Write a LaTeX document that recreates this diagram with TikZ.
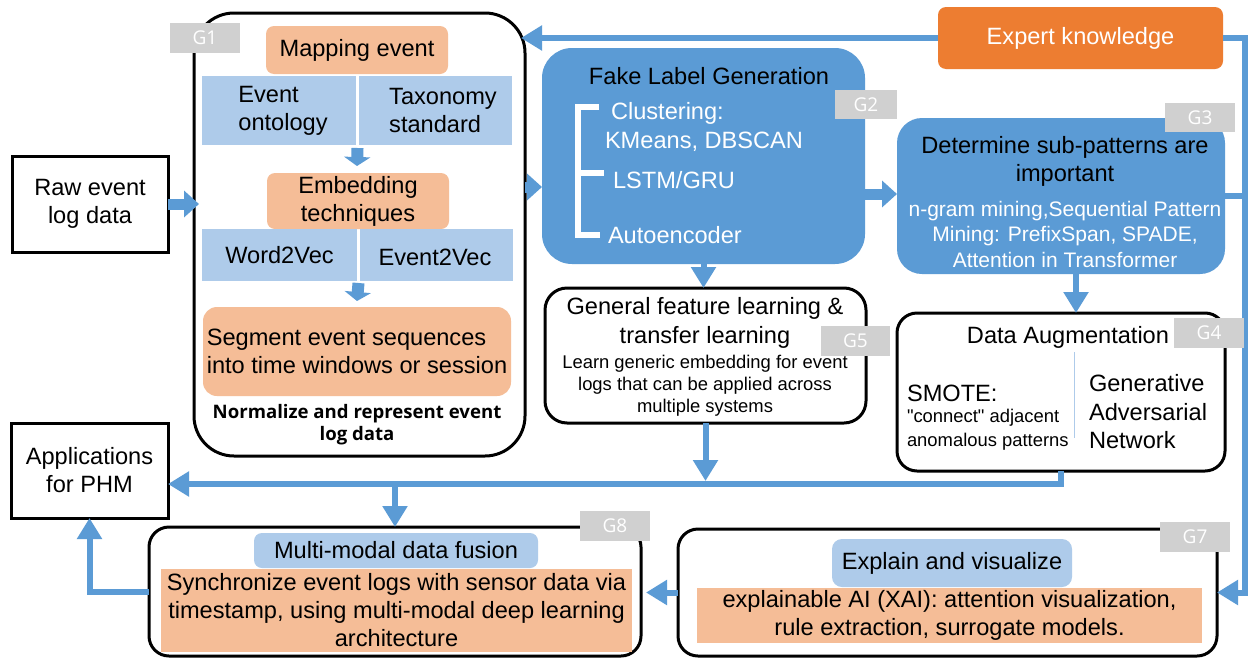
\documentclass[tikz,border=0pt]{standalone}
\usepackage{fontspec}
\setmainfont{Liberation Sans}
\newfontfamily\qfont{Liberation Sans}
\newfontfamily\normfont{Open Sans}
\usetikzlibrary{arrows.meta,calc}
\definecolor{ablue}{HTML}{5B9BD5}
\definecolor{lblue}{HTML}{AECBEA}
\definecolor{lorange}{HTML}{F5BD97}
\definecolor{dorange}{HTML}{ED7D31}
\definecolor{glabel}{HTML}{D0D0D0}
\tikzset{
  F24/.style={font=\fontsize{23.6}{28}\selectfont},
  F21/.style={font=\fontsize{21}{25.5}\selectfont},
  F18/.style={font=\fontsize{18.4}{22}\selectfont},
  blk/.style={draw=black,line width=3pt,fill=white},
  glbl/.style={fill=glabel,text=white,font=\normfont\fontsize{19}{22}\selectfont,minimum width=70pt,minimum height=30pt},
  bluebox/.style={fill=ablue},
  lbbox/.style={fill=lblue},
  lobox/.style={fill=lorange},
  conn/.style={draw=ablue,line width=6pt},
  arr/.style={conn,-{Triangle[length=21pt,width=24pt]}},
  fat/.style={draw=ablue,line width=11pt,-{Triangle[length=15pt,width=26pt]}},
  sarr/.style={draw=ablue,line width=12pt,-{Triangle[length=9pt,width=26pt]}},
}
\begin{document}
\begin{tikzpicture}[x=1pt,y=-1pt,every node/.style={inner sep=0pt,outer sep=0pt}]
\fill[white] (0,0) rectangle (1252,659);
\useasboundingbox (0,0) rectangle (1252,659);
\coordinate (rail) at (1245,300);
\coordinate (bus) at (300,484);

% ---------- left column ----------
\node[blk,F24,align=center,minimum width=156pt,minimum height=96pt] (raw) at (90,204) {Raw event\\log data};
\node[blk,F24,align=center,minimum width=157pt,minimum height=95pt] (app) at (89.5,470.5) {Applications\\for PHM};

% ---------- G1 ----------
\node[blk,rounded corners=40pt,minimum width=331pt,minimum height=443pt] (g1) at (359.5,234.5) {};
\node[lobox,F24,rounded corners=8pt,minimum width=182pt,minimum height=48pt] (map) at (357,50) {Mapping event};
\node[lbbox,minimum width=154pt,minimum height=69pt] (onto) at (279,110.5) {};
\node[F24,align=left] (ontot) at (283,110.5) {Event\\ontology};
\node[lbbox,minimum width=153pt,minimum height=69pt] (taxo) at (435.5,110.5) {};
\node[F24,align=left] (taxot) at (443,110.5) {Taxonomy\\standard};
\node[lobox,F24,align=center,rounded corners=8pt,minimum width=182pt,minimum height=56pt] (emb) at (358,201) {Embedding\\techniques};
\node[lbbox,F24,minimum width=155pt,minimum height=52pt] (w2v) at (279.5,255) {Word2Vec};
\node[lbbox,F24,minimum width=153pt,minimum height=52pt] (e2v) at (436.5,255) {};
\node[F24] (e2vt) at (435,257) {Event2Vec};
\node[lobox,F24,align=left,rounded corners=14pt,minimum width=308pt,minimum height=89pt] (seg) at (357,351.5) {Segment event sequences\\into time windows or session};
\node[font=\normfont\bfseries\fontsize{18.6}{22}\selectfont,align=center] (norm) at (357,425) {Normalize and represent event\\log data};
\draw[sarr] ($(taxo.south west)+(-1.5,3)$) -- ($(emb.north)+(-1,-7)$);
\draw[sarr] ($(e2v.south west)+(-1.5,2)$) -- ($(seg.north)+(0,-6)$);

% ---------- G2 ----------
\node[bluebox,rounded corners=30pt,minimum width=323pt,minimum height=216pt] (g2) at (703.5,156) {};
\node[F24] (g2t) at (709,76) {Fake Label Generation};
\draw[white,line width=6pt] (599,107) -- (578,107) -- (578,235) -- (600,235);
\draw[white,line width=6pt] (578,173) -- (604,173);
\node[F24,text=white,anchor=west] (clu) at (611,113) {Clustering:};
\node[F24,text=white,anchor=west] (kme) at (605,142) {KMeans, DBSCAN};
\node[F24,text=white,anchor=west] (lstm) at (613,180) {LSTM/GRU};
\node[F24,text=white,anchor=west] (auto) at (608,235) {Autoencoder};

% ---------- G3 ----------
\node[bluebox,rounded corners=25pt,minimum width=328pt,minimum height=156pt] (g3) at (1061,196) {};
\node[F24,align=center] (g3t) at (1065,161) {Determine sub-patterns are\\important};
\node[F21,text=white,align=center] (g3b) at (1065,234) {n-gram mining,Sequential Pattern\\Mining: PrefixSpan, SPADE,\\Attention in Transformer};

% ---------- Expert ----------
\node[fill=dorange,rounded corners=8pt,text=white,F24,minimum width=285pt,minimum height=62pt] (expert) at (1080.5,38) {Expert knowledge};

% ---------- G5 ----------
\node[blk,rounded corners=22pt,minimum width=321pt,minimum height=135pt] (g5) at (705.5,355.5) {};
\node[font=\fontsize{23.6}{29.5}\selectfont,align=center] (g5t) at (705,323) {General feature learning \&\\transfer learning};
\node[F18,align=center] (g5b) at (705,386) {Learn generic embedding for event\\logs that can be applied across\\multiple systems};

% ---------- G4 ----------
\node[blk,rounded corners=20pt,minimum width=328pt,minimum height=158pt] (g4) at (1061,392) {};
\node[F24] (g4t) at (1068,337) {Data Augmentation};
\draw[lblue,line width=1pt] (1074,352) -- (1074,438);
\node[F24,anchor=west] (smote) at (907,393) {SMOTE:};
\node[font=\qfont\fontsize{18.4}{22}\selectfont,anchor=west] (conn1) at (907,418) {"connect" adjacent};
\node[F18,anchor=west] (conn2) at (907,442) {anomalous patterns};
\node[font=\fontsize{23.6}{28.5}\selectfont,align=left,anchor=west] (gan) at (1089,412) {Generative\\Adversarial\\Network};

% ---------- G8 ----------
\node[blk,rounded corners=20pt,minimum width=492pt,minimum height=129pt] (g8) at (395,591.5) {};
\node[lbbox,F24,rounded corners=8pt,minimum width=284pt,minimum height=35pt] (mmdf) at (396,550.5) {Multi-modal data fusion};
\node[lobox,F24,align=center,minimum width=471pt,minimum height=83pt] (sync) at (396.5,610.5) {Synchronize event logs with sensor data via\\timestamp, using multi-modal deep learning\\architecture};

% ---------- G7 ----------
\node[blk,rounded corners=20pt,minimum width=539pt,minimum height=127pt] (g7) at (947.5,592.5) {};
\node[lbbox,F24,rounded corners=10pt,minimum width=240pt,minimum height=48pt] (exv) at (952,563) {Explain and visualize};
\node[lobox,F24,align=center,minimum width=505pt,minimum height=55pt] (xai) at (949.5,615.5) {explainable AI (XAI): attention visualization,\\rule extraction, surrogate models.};

% ---------- connectors ----------
\draw[fat] (raw.east) -- ($(g1.west |- raw.east)+(5,0)$);
\draw[fat] (g1.east |- 0,187) -- (g2.west |- 0,187);
\draw[fat] (g2.east |- 0,194) -- (g3.west |- 0,194);
\draw[arr] (expert.west) -- ($(g1.east |- expert.west)+(-4,0)$);
\draw[arr] (expert.east) -- (expert.east -| rail) |- (g7.east);
\draw[conn] (g3.east) -- (g3.east -| rail);
\draw[arr] (g2.south) -- (g2.south |- g5.north);
\draw[arr] ($(g3.south)+(15,0)$) -- ($(g3.south |- g4.north)+(15,0)$);
\draw[arr] (g5.south) -- ($(g5.south |- bus)+(0,-3)$);
\draw[arr] (g4.south) -- (g4.south |- bus) -- (app.east |- bus);
\draw[arr] (g8.north |- bus) -- (g8.north);
\draw[arr] (g8.west) -| (app.south);
\draw[arr] (g7.west) -- ($(g8.east |- g7.west)+(5,0)$);

% ---------- G labels ----------
\node[glbl] (l1) at (205,38) {G1};
\node[glbl,minimum width=62pt,minimum height=29pt] (l2) at (866,104.5) {G2};
\node[glbl,minimum height=29pt] (l3) at (1200,117.5) {G3};
\node[glbl] (l4) at (1209,333) {G4};
\node[glbl,minimum width=69pt] (l5) at (855.5,341) {G5};
\node[glbl] (l7) at (1195,537) {G7};
\node[glbl] (l8) at (615,526) {G8};
\end{tikzpicture}
\end{document}
